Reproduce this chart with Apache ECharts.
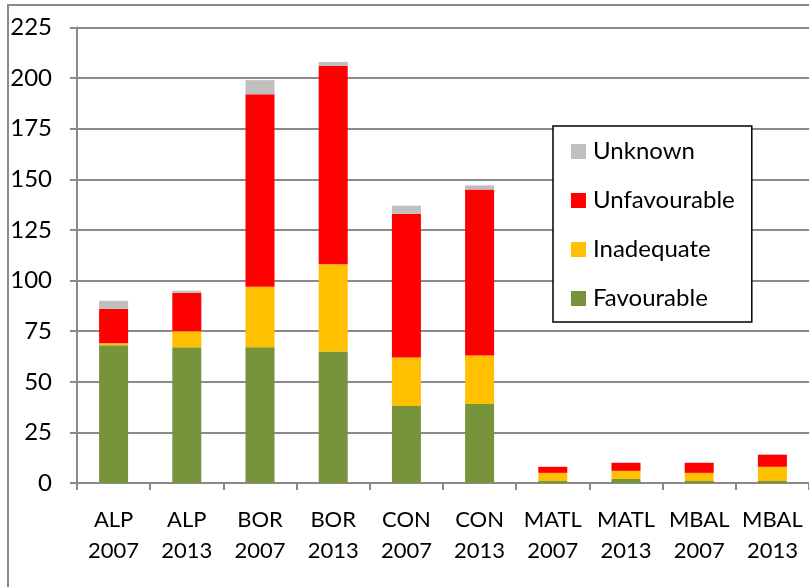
<!DOCTYPE html>
<html><head><meta charset="utf-8">
<script src="https://cdn.jsdelivr.net/npm/echarts@6/dist/echarts.min.js"></script>
<style>html,body{margin:0;padding:0;background:#fff}#c{width:809px;height:587px}</style>
</head><body><div id="c"></div>
<script>
var categories = ['ALP\n2007','ALP\n2013','BOR\n2007','BOR\n2013','CON\n2007','CON\n2013','MATL\n2007','MATL\n2013','MBAL\n2007','MBAL\n2013'];
var favourable   = [68, 67, 67, 65, 38, 39, 1, 2, 1, 1];
var inadequate   = [1, 8, 30, 43, 24, 24, 4, 4, 4, 7];
var unfavourable = [17, 19, 95, 98, 71, 82, 3, 4, 5, 6];
var unknown      = [4, 1, 7, 2, 4, 2, 0, 0, 0, 0];
var yTicks = [0, 25, 50, 75, 100, 125, 150, 175, 200, 225];

var font = 'Lato';
var chart = echarts.init(document.getElementById('c'));
function s(name, data, color) {
  return {name: name, type: 'bar', stack: 'a', data: data, barWidth: 29,
    itemStyle: {color: color}, emphasis: {disabled: true}};
}
chart.setOption({
  animation: false,
  textStyle: {fontFamily: font},
  graphic: [{type: 'rect', shape: {x: 8, y: 5, width: 820, height: 620},
    style: {fill: 'none', stroke: '#8a8a8a', lineWidth: 2}, z: -1}],
  grid: {left: 77, top: 27.5, right: -3, bottom: 104, containLabel: false},
  legend: {
    orient: 'vertical', left: 553, top: 126,
    data: ['Unknown', 'Unfavourable', 'Inadequate', 'Favourable'],
    itemWidth: 15, itemHeight: 15, itemGap: 24,
    icon: 'rect',
    padding: [13, 17, 11, 18],
    backgroundColor: '#fff', borderColor: '#000', borderWidth: 1.5,
    textStyle: {fontFamily: font, fontSize: 24, color: '#000', lineHeight: 25, padding: [0, 0, 0, 2]}
  },
  xAxis: {
    type: 'category', data: categories,
    axisLine: {lineStyle: {color: '#8a8a8a', width: 2}},
    axisTick: {show: true, length: 7, lineStyle: {color: '#8a8a8a', width: 2}},
    axisLabel: {interval: 0, fontFamily: font, fontSize: 22, color: '#000', lineHeight: 30.5, margin: 22}
  },
  yAxis: {
    type: 'value', min: 0, max: 225, interval: 25,
    axisLine: {show: true, lineStyle: {color: '#8a8a8a', width: 2}},
    axisTick: {show: true, length: 7, lineStyle: {color: '#8a8a8a', width: 2}},
    splitLine: {lineStyle: {color: '#8a8a8a', width: 2}},
    axisLabel: {fontFamily: font, fontSize: 24, color: '#000', margin: 25,
      formatter: function (v) { return yTicks.indexOf(v) >= 0 ? String(v) : ''; }}
  },
  series: [
    s('Favourable', favourable, '#77933C'),
    s('Inadequate', inadequate, '#FFC000'),
    s('Unfavourable', unfavourable, '#FF0000'),
    s('Unknown', unknown, '#BFBFBF')
  ]
});
</script></body></html>
